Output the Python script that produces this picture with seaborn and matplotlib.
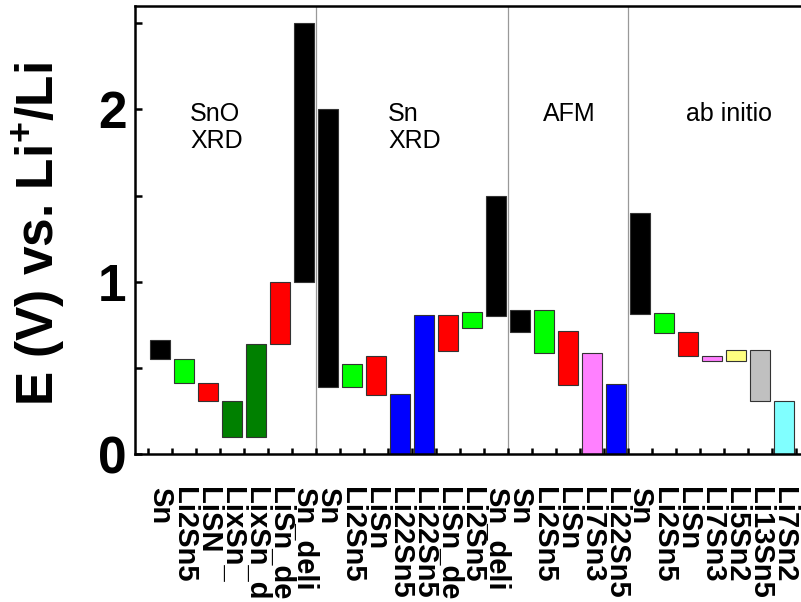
import numpy as np
import pandas as pd
import matplotlib
matplotlib.use("Agg")
import matplotlib.pyplot as plt
from matplotlib.ticker import FixedLocator
import seaborn as sns

# ---- data ----
labels = ["Sn", "Li2Sn5", "LiSN", "LixSn_", "LixSn_d", "LiSn_de", "Sn_deli",
          "Sn", "Li2Sn5", "LiSn", "Li22Sn5", "Li22Sn5", "LiSn_de", "Li2Sn5", "Sn_deli",
          "Sn", "Li2Sn5", "LiSn", "Li7Sn3", "Li22Sn5",
          "Sn", "Li2Sn5", "LiSn", "Li7Sn3", "Li5Sn2", "Li13Sn5", "Li7Sn2"]
lows = [0.55, 0.41, 0.31, 0.10, 0.10, 0.64, 1.00,
        0.39, 0.39, 0.345, 0.0, 0.0, 0.595, 0.73, 0.80,
        0.71, 0.585, 0.40, 0.0, 0.0,
        0.81, 0.705, 0.566, 0.537, 0.537, 0.31, 0.0]
highs = [0.66, 0.55, 0.41, 0.31, 0.64, 1.00, 2.50,
         2.00, 0.52, 0.566, 0.347, 0.804, 0.804, 0.824, 1.50,
         0.837, 0.833, 0.715, 0.589, 0.405,
         1.40, 0.818, 0.708, 0.570, 0.605, 0.605, 0.31]
colors = ["#000000", "#00FF00", "#FF0000", "#008000", "#008000", "#FF0000", "#000000",
          "#000000", "#00FF00", "#FF0000", "#0000FF", "#0000FF", "#FF0000", "#00FF00", "#000000",
          "#000000", "#00FF00", "#FF0000", "#FF80FF", "#0000FF",
          "#000000", "#00FF00", "#FF0000", "#FF80FF", "#FFFF80", "#C0C0C0", "#80FFFF"]
group_names = ["SnO\nXRD", "Sn\nXRD", "AFM", "ab initio"]
group_sizes = [7, 8, 5, 7]

sns.set_style("ticks")
plt.rcParams["font.family"] = ["Liberation Sans", "DejaVu Sans"]
plt.rcParams["mathtext.fontset"] = "custom"
plt.rcParams["mathtext.rm"] = "Liberation Sans:bold"
plt.rcParams["mathtext.it"] = "Liberation Sans:bold"
plt.rcParams["mathtext.bf"] = "Liberation Sans:bold"
for k in ["text.color", "axes.labelcolor", "xtick.color", "ytick.color", "axes.edgecolor"]:
    plt.rcParams[k] = "black"

df = pd.DataFrame({
    "slot": np.arange(len(labels)),
    "span": np.array(highs) - np.array(lows),
    "low": lows,
})

fig = plt.figure(figsize=(8.01, 6.02), dpi=100)
xmin, xmax = -1.04, 27.5
W = 24 * (xmax - xmin)
ax = fig.add_axes([135 / 801, 148 / 602, W / 801, 448 / 602])

sns.barplot(data=df, x="slot", y="span", bottom=df["low"].to_numpy(),
            color="black", width=0.82, errorbar=None, ax=ax,
            linewidth=0.8, edgecolor="#333333")
for patch, c in zip(ax.patches, colors):
    patch.set_facecolor(c)

# group separators
edges = np.cumsum(group_sizes)[:-1] - 0.5
for e in edges:
    ax.axvline(e, color="#999999", lw=0.9, zorder=0)

# group titles
title_x = [1.25, 9.5, 15.96, 21.9]
for name, tx in zip(group_names, title_x):
    ax.text(tx, 2.045, name, fontsize=18, ha="left", va="top", color="black")

ax.set_xlim(xmin, xmax)
ax.set_ylim(0, 2.6)

ax.xaxis.set_major_locator(FixedLocator(np.arange(len(labels))))
ax.set_xticklabels(labels, rotation=270, fontsize=21, fontweight="bold", color="black")
ax.xaxis.set_minor_locator(FixedLocator(np.arange(len(labels) + 1) - 0.5))
ax.tick_params(axis="x", which="major", length=0, pad=24)
ax.tick_params(axis="x", which="minor", direction="in", length=4, width=1.8)

ax.yaxis.set_major_locator(FixedLocator([0, 1, 2]))
ax.yaxis.set_minor_locator(FixedLocator([0.5, 1.5, 2.5]))
ax.set_yticklabels(["0", "1", "2"], fontsize=37, fontweight="bold", color="black")
ax.tick_params(axis="y", which="both", direction="in", length=5, width=1.8, pad=6)

for s in ["left", "bottom", "top"]:
    ax.spines[s].set_linewidth(1.8)
    ax.spines[s].set_color("black")
ax.spines["right"].set_visible(False)

ax.set_xlabel("")
ax.set_ylabel(r"E (V) vs. Li$^{+}$/Li", fontsize=37, fontweight="bold", color="black")
ax.yaxis.set_label_coords((68 - 135) / W, 0.49)

fig.savefig("out.png", dpi=100)
